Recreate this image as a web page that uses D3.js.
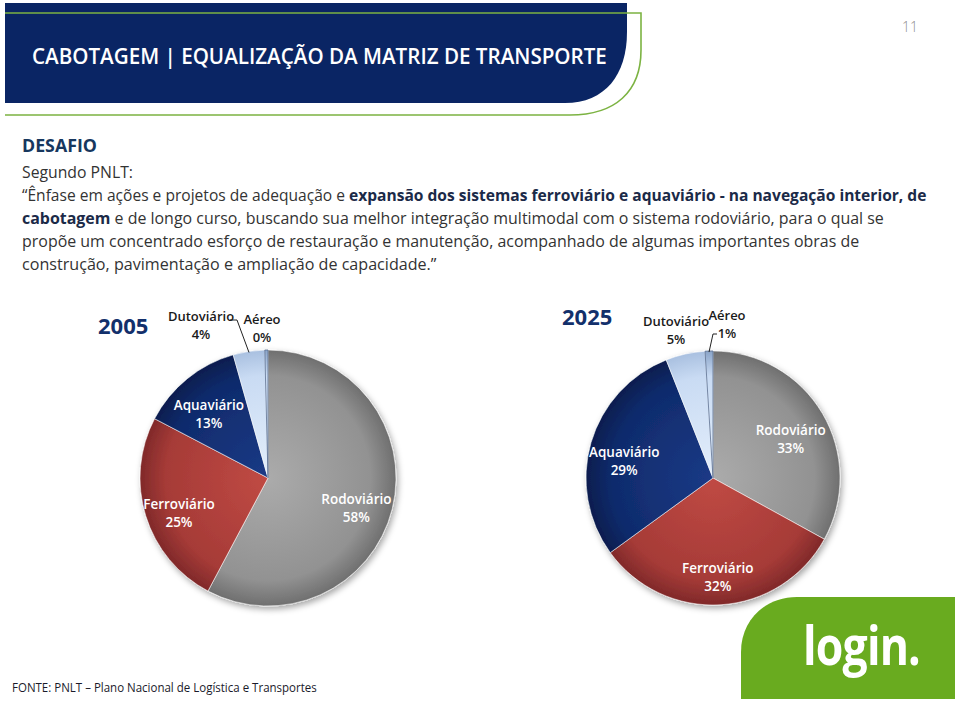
<!DOCTYPE html>
<html><head><meta charset="utf-8">
<script src="https://cdn.jsdelivr.net/npm/d3@7/dist/d3.min.js"></script>
<style>
html,body{margin:0;padding:0;background:#fff;}
svg{display:block;font-family:"Open Sans",Lato,sans-serif;}
</style></head>
<body>
<svg id="c" width="960" height="701"></svg>
<script>
// ---------- data ----------
const categories = ["Rodoviário","Ferroviário","Aquaviário","Dutoviário","Aéreo"];
const values2005 = [58, 25, 13, 4, 0.4];
const values2025 = [33, 32, 29, 5, 1];
const pctLabels2005 = ["58%","25%","13%","4%","0%"];
const pctLabels2025 = ["33%","32%","29%","5%","1%"];
const years = ["2005","2025"];
const titleText = "CABOTAGEM | EQUALIZAÇÃO DA MATRIZ DE TRANSPORTE";
const bodyLines = [
  [["“Ênfase em ações e projetos de adequação e ",false],["expansão dos sistemas ferroviário e aquaviário - na navegação interior, de",true]],
  [["cabotagem",true],[" e de longo curso, buscando sua melhor integração multimodal com o sistema rodoviário, para o qual se",false]],
  [["propõe um concentrado esforço de restauração e manutenção, acompanhado de algumas importantes obras de",false]],
  [["construção, pavimentação e ampliação de capacidade.”",false]]
];
const sourceText = "FONTE: PNLT – Plano Nacional de Logística e Transportes";

const svg = d3.select("#c");
const defs = svg.append("defs");

function fit(sel, x, y, w){
  const bw = sel.node().getComputedTextLength();
  sel.attr("x",0).attr("y",0).attr("transform",`translate(${x},${y}) scale(${w/bw},1)`);
  return sel;
}

// ---------- header ----------
svg.append("path")
  .attr("d","M5,3 H627 V32 C627,75 605,103 565,103 H5 Z")
  .attr("fill","#0a2564");
svg.append("path")
  .attr("d","M5,13 H641 V50 C641,92 615,115 570,115 H5")
  .attr("fill","none").attr("stroke","#7cb342").attr("stroke-width",1.6);
fit(svg.append("text").text(titleText).attr("fill","#fff")
  .attr("font-size",21).attr("font-weight",600), 32, 64, 575);
svg.append("text").attr("x",918).attr("y",32).attr("text-anchor","end")
  .attr("font-size",14).attr("fill","#8c8c8c").attr("font-weight",300).text("11");

// ---------- body text ----------
fit(svg.append("text").text("DESAFIO").attr("fill","#17375e")
  .attr("font-size",18).attr("font-weight",700), 22, 152, 75);
fit(svg.append("text").text("Segundo PNLT:").attr("fill","#333")
  .attr("font-size",16), 22, 178, 111);
const lineEnds = [927, 884, 860, 437];
const lineY = [201, 224, 247, 270];
bodyLines.forEach((segs,i)=>{
  const t = svg.append("text").attr("font-size",16).attr("fill","#333");
  segs.forEach(s=>{
    t.append("tspan").text(s[0]).attr("font-weight",s[1]?700:400)
      .attr("fill",s[1]?"#1b2a48":"#333");
  });
  fit(t, 22, lineY[i], lineEnds[i]-22);
});

// ---------- pies ----------
const baseColors = [
  {c0:"#ababab", c1:"#929292", c2:"#6f6f6f"},
  {c0:"#c04a44", c1:"#a63b37", c2:"#80292a"},
  {c0:"#1b3a86", c1:"#0f2b6c", c2:"#081d4e"},
  {c0:"#e3eefb", c1:"#c9dbf3", c2:"#a9c0e0"},
  {c0:"#e3eefb", c1:"#c9dbf3", c2:"#8aa4c8"}
];
const f = defs.append("filter").attr("id","sh").attr("x","-20%").attr("y","-20%")
  .attr("width","140%").attr("height","140%");
f.append("feDropShadow").attr("dx",2).attr("dy",3).attr("stdDeviation",3)
  .attr("flood-color","#000").attr("flood-opacity",0.35);

const pie = d3.pie().sort(null).startAngle(0).endAngle(2*Math.PI);

function drawPie(id, cx, cy, r, vals, pcts, opts){
  baseColors.forEach((bc,i)=>{
    const g = defs.append("radialGradient").attr("id",`${id}g${i}`)
      .attr("gradientUnits","userSpaceOnUse").attr("cx",0).attr("cy",0).attr("r",r);
    g.append("stop").attr("offset","0%").attr("stop-color",bc.c0);
    g.append("stop").attr("offset","80%").attr("stop-color",bc.c1);
    g.append("stop").attr("offset","100%").attr("stop-color",bc.c2);
  });
  const arcs = pie(vals);
  const arc = d3.arc().innerRadius(0).outerRadius(r);
  const g = svg.append("g").attr("transform",`translate(${cx},${cy})`);
  g.append("g").attr("filter","url(#sh)").selectAll("path").data(arcs).enter().append("path")
    .attr("d",arc)
    .attr("fill",(d,i)=>`url(#${id}g${i})`)
    .attr("stroke",(d,i)=> i===4 ? "#5a6f90" : "rgba(255,255,255,0.55)")
    .attr("stroke-width",(d,i)=> i===4 ? 0.8 : 1);
  // inner labels
  const lab = d3.arc().innerRadius(r*0.72).outerRadius(r*0.72);
  arcs.slice(0,3).forEach((d,i)=>{
    const [x,y] = lab.centroid(d);
    const t = g.append("text").attr("text-anchor","middle").attr("fill","#fff")
      .attr("font-size",13.5).attr("font-weight",600);
    t.append("tspan").attr("x",x-1).attr("y",y+4).text(categories[i]);
    t.append("tspan").attr("x",x-1).attr("y",y+22).text(pcts[i]);
  });
  // outer labels
  opts.outer.forEach(o=>{
    const i = o.i;
    const t = g.append("text").attr("text-anchor","middle").attr("fill","#1a1a1a")
      .attr("font-size",13).attr("font-weight",600);
    t.append("tspan").attr("x",o.dx).attr("y",o.dy).text(categories[i]);
    t.append("tspan").attr("x",o.dx).attr("y",o.dy+18).text(pcts[i]);
    if(o.leader){
      const a = (arcs[i].startAngle+arcs[i].endAngle)/2;
      const px = Math.sin(a)*(r-1), py = -Math.cos(a)*(r-1);
      g.append("path").attr("d",`M${o.leader[0]},${o.leader[1]} H${o.leader[2]} L${px},${py}`)
        .attr("fill","none").attr("stroke","#222").attr("stroke-width",1);
    }
  });
  return g;
}

// logo (behind the pie)
svg.append("path").attr("d","M741,699 V652 C741,620 765,597 797,597 H955 V699 Z").attr("fill","#69ab1f");
fit(svg.append("text").text("login.").attr("fill","#fff").attr("font-size",54)
  .attr("font-weight",700).attr("letter-spacing",-1), 803, 665, 117);

drawPie("p1", 268, 478, 128, values2005, pctLabels2005, {
  outer:[
    {i:3, dx:-67, dy:-157, leader:[-38,-158,-31]},
    {i:4, dx:-6, dy:-154}
  ]});
drawPie("p2", 713, 478, 127, values2025, pctLabels2025, {
  outer:[
    {i:3, dx:-37, dy:-152},
    {i:4, dx:14, dy:-158, leader:[4,-144,0]}
  ]});

// year labels
svg.append("text").attr("x",98).attr("y",334).attr("font-size",22).attr("font-weight",700)
  .attr("fill","#13306b").text(years[0]);
svg.append("text").attr("x",562).attr("y",325).attr("font-size",22).attr("font-weight",700)
  .attr("fill","#13306b").text(years[1]);

// source
fit(svg.append("text").text(sourceText).attr("fill","#1a1a2a").attr("font-size",13), 12, 692, 305);
</script>
</body></html>
